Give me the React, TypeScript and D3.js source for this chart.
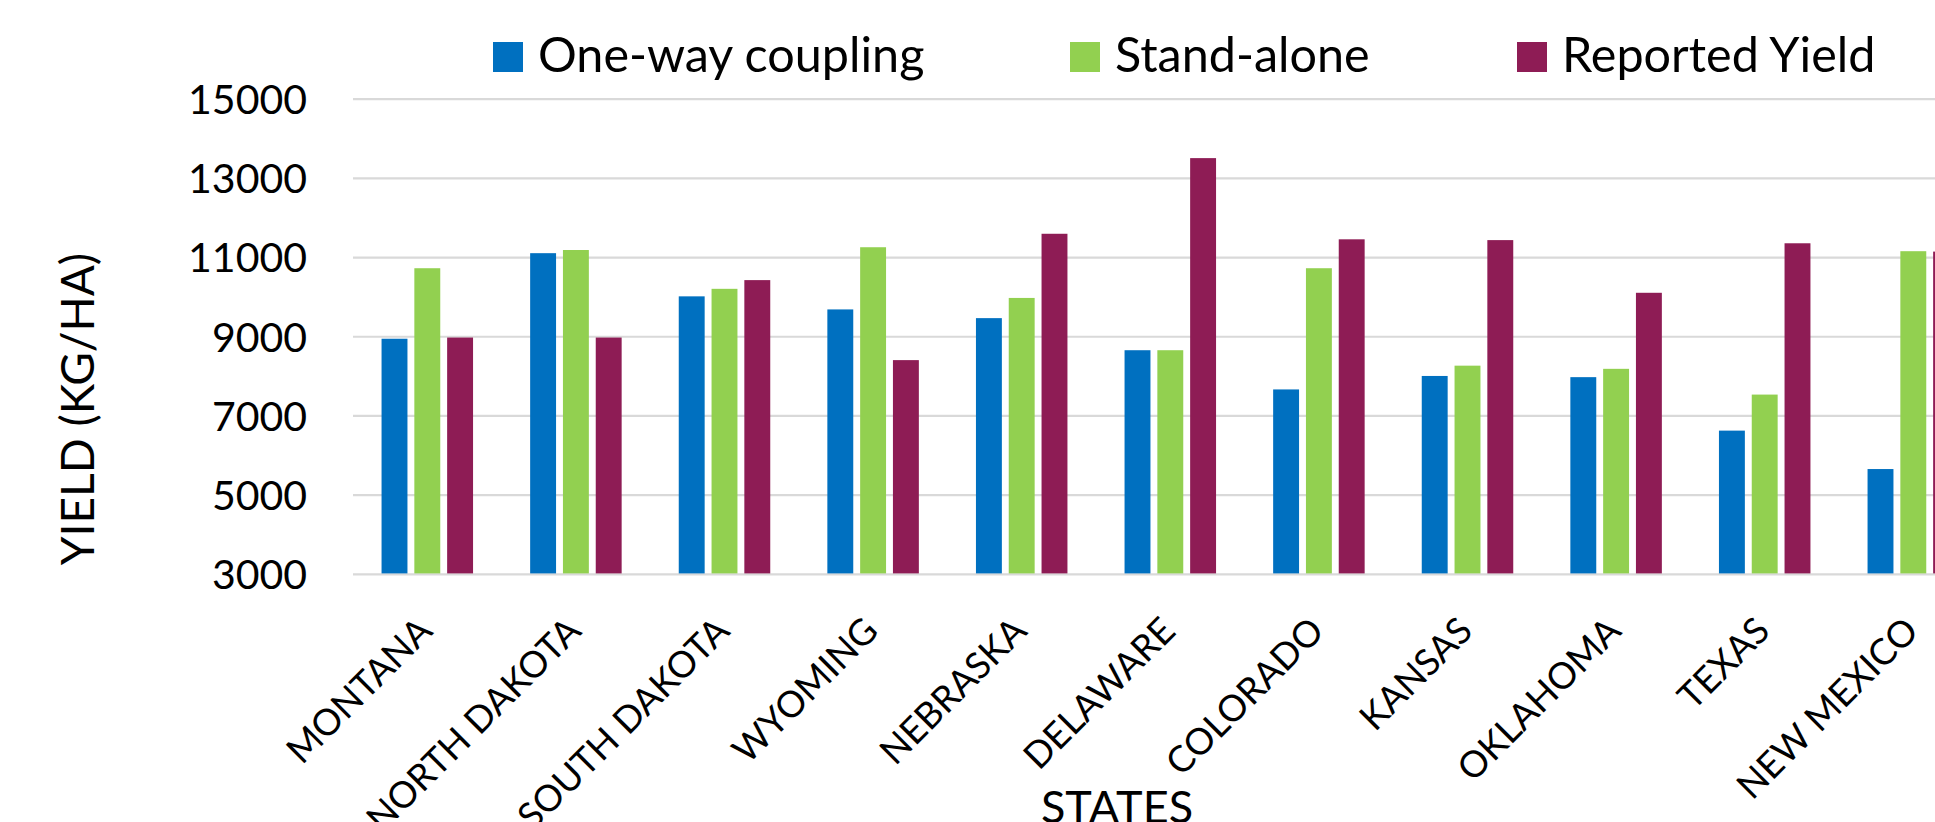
import * as d3 from "d3";

const states = [
  "MONTANA",
  "NORTH DAKOTA",
  "SOUTH DAKOTA",
  "WYOMING",
  "NEBRASKA",
  "DELAWARE",
  "COLORADO",
  "KANSAS",
  "OKLAHOMA",
  "TEXAS",
  "NEW MEXICO",
];

const oneWay = [8950, 11110, 10020, 9690, 9470, 8660, 7670, 8010, 7980, 6630, 5660];
const standAlone = [10730, 11190, 10210, 11260, 9980, 8660, 10730, 8270, 8190, 7540, 11160];
const reported = [8980, 8980, 10430, 8410, 11600, 13510, 11460, 11440, 10110, 11360, 11150];

const seriesNames = ["One-way coupling", "Stand-alone", "Reported Yield"];
const seriesColors = ["#0070C0", "#92D050", "#8E1C55"];
const yTicks = [3000, 5000, 7000, 9000, 11000, 13000, 15000];

const width = 1935;
const height = 822;
const font = "Lato, 'Open Sans', sans-serif";

export default function App() {
  const values = [oneWay, standAlone, reported];

  // plot runs off the right edge like the original crop
  const x0 = d3
    .scaleBand()
    .domain(states)
    .range([353, 353 + states.length * 148.6])
    .paddingInner(0)
    .paddingOuter(0);

  const x1 = d3
    .scaleBand()
    .domain(seriesNames)
    .range([0, 91.5])
    .paddingInner(0.21);

  const y = d3.scaleLinear().domain([3000, 15000]).range([574.4, 99.1]);

  const groupPad = (x0.bandwidth() - 91.5) / 2;
  const [xLeft, xRight] = x0.range();

  const legendX = [493, 1070, 1517];

  return (
    <svg
      width={width}
      height={height}
      style={{ position: "absolute", left: 0, top: 0, background: "#fff" }}
      fontFamily={font}
    >
      <rect width={width} height={height} fill="#fff" />

      {/* gridlines */}
      <g>
        {yTicks.map((t) => (
          <line
            key={t}
            x1={xLeft}
            x2={xRight}
            y1={y(t)}
            y2={y(t)}
            stroke="#d9d9d9"
            strokeWidth={2.2}
          />
        ))}
      </g>

      {/* y tick labels */}
      <g>
        {yTicks.map((t) => (
          <text
            key={t}
            x={307}
            y={y(t)}
            dy="0.36em"
            textAnchor="end"
            fontSize={41}
            fill="#000"
          >
            {t}
          </text>
        ))}
      </g>

      {/* bars */}
      <g>
        {states.map((s, i) => (
          <g key={s} transform={`translate(${(x0(s) ?? 0) + groupPad},0)`}>
            {seriesNames.map((name, k) => (
              <rect
                key={name}
                x={x1(name) ?? 0}
                y={y(values[k][i])}
                width={x1.bandwidth()}
                height={y(3000) - y(values[k][i]) - 1}
                fill={seriesColors[k]}
              />
            ))}
          </g>
        ))}
      </g>

      {/* category labels */}
      <g>
        {states.map((s) => {
          const cx = (x0(s) ?? 0) + x0.bandwidth() / 2 + 7;
          const cy = 633;
          return (
            <text
              key={s}
              transform={`translate(${cx},${cy}) rotate(-45)`}
              textAnchor="end"
              fontSize={36.5}
              fill="#000"
            >
              {s}
            </text>
          );
        })}
      </g>

      {/* axis titles */}
      <text
        transform={`translate(94,409) rotate(-90)`}
        textAnchor="middle"
        fontSize={46}
        fill="#000"
      >
        YIELD (KG/HA)
      </text>
      <text x={1117} y={823} textAnchor="middle" fontSize={45} fill="#000">
        STATES
      </text>

      {/* legend */}
      <g>
        {seriesNames.map((name, k) => (
          <g key={name} transform={`translate(${legendX[k]},42)`}>
            <rect width={30} height={30} fill={seriesColors[k]} />
            <text x={45} y={30} fontSize={48.5} fill="#000">
              {name}
            </text>
          </g>
        ))}
      </g>
    </svg>
  );
}
